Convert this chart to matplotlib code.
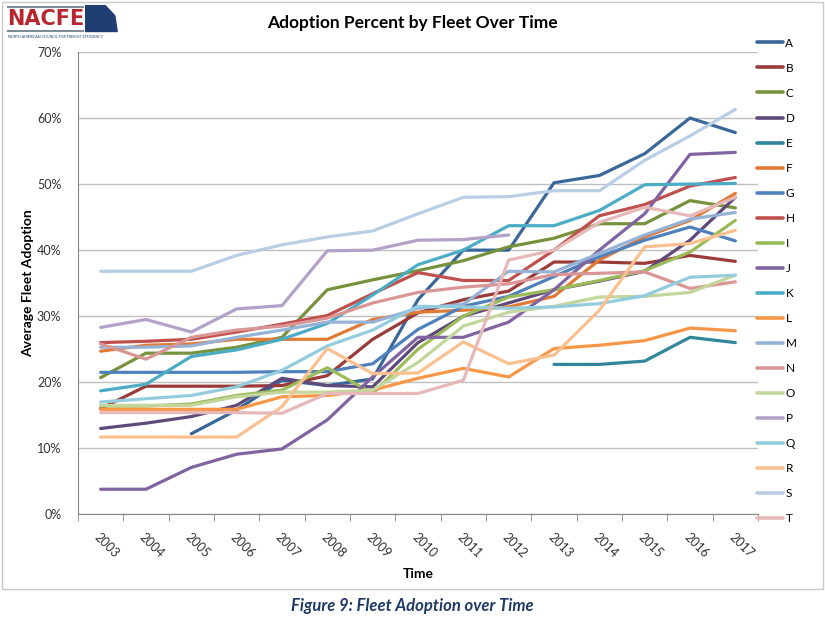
import numpy as np
import matplotlib
matplotlib.use("Agg")
import matplotlib.pyplot as plt
from matplotlib.lines import Line2D
from matplotlib.patches import Polygon, Rectangle

plt.rcParams["font.family"] = ["Lato", "DejaVu Sans"]

nan = np.nan

# years on the category axis
years = [str(y) for y in range(2003, 2018)]

# average fleet adoption (%) per fleet
A = [nan, nan, 12.2, 15.8, 20.3, 19.5, 20.5, 32.5, 40.0, 40.0, 50.2, 51.3, 54.6, 60.0, 57.8]
B = [16.0, 19.4, 19.4, 19.4, 19.5, 21.0, 26.5, 30.5, 32.5, 33.8, 38.2, 38.2, 38.0, 39.2, 38.3]
C = [20.7, 24.4, 24.4, 25.3, 26.8, 34.0, 35.5, 36.9, 38.4, 40.5, 41.8, 44.0, 44.0, 47.5, 46.4]
D = [13.0, 13.8, 14.8, 16.5, 20.6, 19.5, 19.3, 26.0, 30.0, 32.0, 34.0, 35.3, 36.8, 41.5, 48.0]
E = [nan, nan, nan, nan, nan, nan, nan, nan, nan, nan, 22.7, 22.7, 23.2, 26.8, 26.0]
F = [24.7, 25.6, 25.8, 26.5, 26.5, 26.5, 29.5, 30.6, 30.9, 31.4, 33.0, 38.5, 42.0, 44.5, 48.6]
G = [21.5, 21.5, 21.5, 21.5, 21.6, 21.6, 22.8, 28.0, 31.5, 33.0, 36.0, 39.0, 41.5, 43.5, 41.4]
H = [26.0, 26.2, 26.5, 27.6, 28.8, 30.1, 33.4, 36.6, 35.4, 35.4, 40.0, 45.2, 46.9, 49.7, 51.0]
I = [16.4, 16.4, 16.7, 18.0, 18.8, 22.2, 18.3, 25.0, 30.0, 32.9, 34.0, 35.4, 36.9, 39.7, 44.5]
J = [3.8, 3.8, 7.1, 9.1, 9.9, 14.3, 20.8, 26.8, 26.8, 29.1, 34.0, 40.0, 45.5, 54.5, 54.8]
K = [18.7, 19.7, 23.9, 24.9, 26.5, 28.9, 33.2, 37.8, 40.0, 43.7, 43.7, 46.0, 49.9, 50.0, 50.1]
L = [15.9, 15.9, 15.9, 15.9, 17.8, 18.0, 18.8, 20.6, 22.1, 20.8, 25.1, 25.6, 26.3, 28.2, 27.8]
M = [25.3, 25.3, 25.5, 26.8, 27.9, 29.1, 29.1, 31.2, 31.8, 36.8, 36.7, 39.5, 42.3, 44.7, 45.7]
N = [25.8, 23.5, 26.8, 27.9, 28.5, 29.7, 32.0, 33.6, 34.4, 34.9, 36.3, 36.5, 36.7, 34.2, 35.2]
O = [16.5, 16.5, 16.5, 17.8, 18.5, 18.5, 18.8, 23.0, 28.5, 30.6, 31.5, 32.9, 33.0, 33.6, 36.2]
P = [28.3, 29.5, 27.6, 31.1, 31.6, 39.9, 40.0, 41.5, 41.6, 42.3, nan, nan, nan, nan, nan]
Q = [17.0, 17.5, 18.0, 19.3, 21.8, 25.5, 27.9, 31.5, 31.4, 31.2, 31.4, 31.9, 33.1, 35.9, 36.2]
R = [11.7, 11.7, 11.7, 11.7, 16.3, 25.1, 21.3, 21.4, 26.1, 22.8, 24.1, 30.9, 40.5, 41.0, 43.0]
S = [36.8, 36.8, 36.8, 39.2, 40.8, 42.0, 42.9, 45.5, 48.0, 48.1, 49.0, 49.0, 53.6, 57.3, 61.3]
T = [15.4, 15.4, 15.4, 15.4, 15.3, 18.3, 18.3, 18.3, 20.3, 38.5, 40.0, 44.2, 46.5, 45.2, 48.0]

names = list("ABCDEFGHIJKLMNOPQRST")
series = [A, B, C, D, E, F, G, H, I, J, K, L, M, N, O, P, Q, R, S, T]
colors = ["#3A679A", "#9A3B39", "#76923C", "#5F497A", "#31859C", "#E07A34",
          "#4F81BD", "#C0504D", "#9BBB59", "#8064A2", "#4BACC6", "#F79646",
          "#95B3D7", "#D99694", "#C3D69B", "#B3A2C7", "#93CDDD", "#FAC090",
          "#B9CDE5", "#E6B9B8"]

fig = plt.figure(figsize=(8.25, 6.19), dpi=100)
ax = fig.add_axes([0.0945, 0.1691, 0.8243, 0.7469])

x = np.arange(len(years))
handles = []
for name, vals, col in zip(names, series, colors):
    ax.plot(x, np.array(vals) / 100.0, color=col, lw=2.3, solid_capstyle="round")
    handles.append(Line2D([0], [0], color=col, lw=2.6, solid_capstyle="round", label=name))

ax.set_xlim(-0.5, len(years) - 0.5)
ax.set_ylim(0, 0.70)
ax.set_yticks(np.arange(0, 0.71, 0.1))
ax.set_yticklabels([f"{int(round(v * 100))}%" for v in np.arange(0, 0.71, 0.1)], fontsize=9)
ax.yaxis.grid(True, color="#BFBFBF", lw=1.0)
ax.set_axisbelow(True)
ax.tick_params(axis="y", length=0, pad=12, colors="#333333")

ax.set_xticks(x)
ax.set_xticklabels(years, rotation=-45, ha="left", rotation_mode="anchor", fontsize=9)
ax.set_xticks(np.arange(-0.5, len(years), 1.0), minor=True)
ax.tick_params(axis="x", which="major", length=0, pad=12, colors="#333333")
ax.tick_params(axis="x", which="minor", length=5, color="#868686")

for side in ["top", "right"]:
    ax.spines[side].set_visible(False)
for side in ["left", "bottom"]:
    ax.spines[side].set_color("#868686")

ax.set_ylabel("Average Fleet Adoption", fontsize=10, fontweight="bold", labelpad=2)
ax.set_xlabel("Time", fontsize=10, fontweight="bold", labelpad=6)

fig.text(0.5, 0.963, "Adoption Percent by Fleet Over Time", ha="center", va="center",
         fontsize=12.5, fontweight="bold")

ax.legend(handles=handles, loc="upper left", bbox_to_anchor=(0.912, 0.947),
          bbox_transform=fig.transFigure, frameon=False, fontsize=8.5,
          handlelength=2.2, handletextpad=0.2, labelspacing=1.19, borderaxespad=0)

# outer frame of the chart
fig.patches.append(Rectangle((0.003, 0.048), 0.994, 0.949, transform=fig.transFigure,
                             fill=False, edgecolor="#C8C8C8", lw=1.0))

# NACFE logo
fig.lines.append(Line2D([0.010, 0.100], [0.988, 0.988], transform=fig.transFigure, color="#7F8C9A", lw=1.5))
fig.lines.append(Line2D([0.010, 0.100], [0.950, 0.950], transform=fig.transFigure, color="#7F8C9A", lw=1.5))
fig.text(0.009, 0.969, "NACFE", ha="left", va="center", fontsize=15, fontweight="bold",
         color="#B8252E", family=["DejaVu Sans"])
fig.patches.append(Polygon([(0.103, 0.992), (0.128, 0.992), (0.140, 0.975), (0.143, 0.948),
                            (0.103, 0.948)], closed=True, transform=fig.transFigure,
                           facecolor="#1F3F73", edgecolor="none"))
fig.text(0.010, 0.941, "NORTH AMERICAN COUNCIL FOR FREIGHT EFFICIENCY", ha="left", va="center",
         fontsize=2.6, color="#1F3F73")

fig.text(0.5, 0.021, "Figure 9: Fleet Adoption over Time", ha="center", va="center",
         fontsize=12, fontweight="bold", style="italic", color="#1F3864")

fig.savefig("out.png", dpi=100)
